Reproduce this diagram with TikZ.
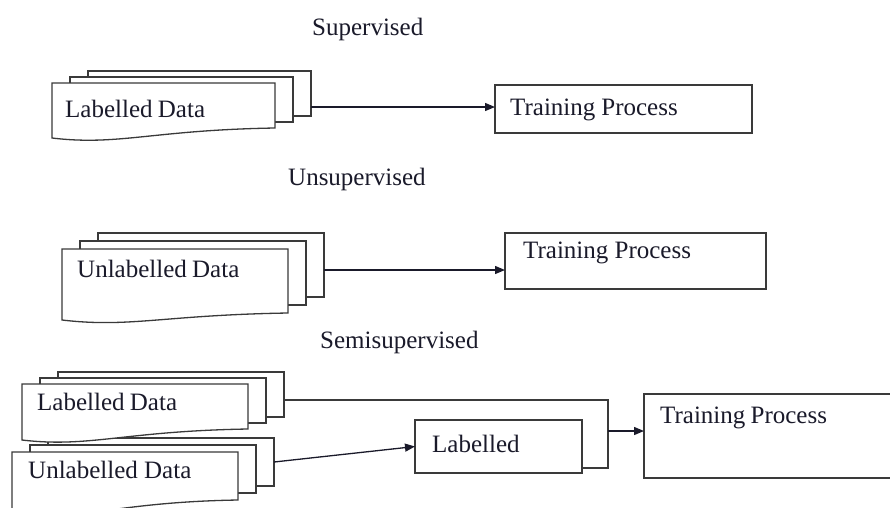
\documentclass[tikz,border=0pt]{standalone}
\usepackage{fontspec}
\setmainfont{Liberation Serif}
\usetikzlibrary{arrows.meta}

\definecolor{edge}{HTML}{3A3A3A}
\definecolor{ink}{HTML}{1A1A2A}

% stack of three documents: name, x, y (front top-left), width,
% height of the rear sheets, left height of the front sheet, vertical step, y of the outlet
\newcommand\docstack[8]{%
  \begin{scope}[shift={(#2,#3)}]
    \draw[sheet] ({36},{2*#7}) rectangle ({36+#4},{2*#7+#5});
    \draw[sheet] ({18},{#7}) rectangle ({18+#4},{#7+#5});
    \draw[sheet] (0,0) -- ({#4},0) -- ({#4},{#5})
      .. controls ({0.45*#4},{#5+2}) and ({0.3*#4},{#6+8}) .. (0,{#6}) -- cycle;
    \coordinate (#1-out) at ({36+#4},{#8});
  \end{scope}}

\tikzset{
  sheet/.style={draw=edge, fill=white, line width=1.3pt, line join=miter},
  procbox/.style={draw=edge, fill=white, line width=1.3pt, anchor=north west,
    inner sep=0pt, outer sep=0pt},
  label/.style={anchor=base west, inner sep=0pt, text=ink,
    font=\fontsize{25}{30}\selectfont},
  title/.style={label},
  link/.style={draw=ink, line width=1.3pt},
  arrow/.style={link, -{Triangle[length=10pt,width=8pt]}},
}

\begin{document}
\begin{tikzpicture}[x=1pt, y=-1pt]
  \useasboundingbox (0,0) rectangle (890,507);
  \clip (0,0) rectangle (890,507);
  \fill[white] (0,0) rectangle (890,507);

  % ---------- supervised ----------
  \node[title] (t-sup) at (312,35) {Supervised};
  \docstack{sup}{52}{83}{223}{45}{55}{-6}{24}
  \node[label] (sup-text) at (65,117) {Labelled\hspace{-1pt} Data};
  \node[procbox, minimum width=257pt, minimum height=48pt] (sup-train) at (495,85) {};
  \node[label] at (510,115) {Training\hspace{6pt}Process};
  \draw[arrow] (sup-out) -- (sup-out -| sup-train.west);

  % ---------- unsupervised ----------
  \node[title] (t-uns) at (288,185) {Unsupervised};
  \docstack{uns}{62}{249}{226}{64}{71}{-8}{21}
  \node[label] (uns-text) at (77,277) {Unlabelled\hspace{-1pt} Data};
  \node[procbox, minimum width=261pt, minimum height=56pt] (uns-train) at (505,233) {};
  \node[label] at (523,258) {Training Process};
  \draw[arrow] (uns-out) -- (uns-out -| uns-train.west);

  % ---------- semisupervised ----------
  \node[title] (t-semi) at (320,348) {Semisupervised};
  \docstack{unl}{12}{452}{226}{48}{62}{-7}{10}
  \docstack{lab}{22}{384}{226}{45}{56}{-6}{16}
  \node[label] (lab-text) at (37,410) {Labelled\hspace{-1pt} Data};
  \node[label] (unl-text) at (28,478) {Unlabelled Data};

  \node[procbox, minimum width=167pt, minimum height=53pt] (lab) at (415,420) {};
  \node[label] at (432,452) {Labelled};
  \node[procbox, minimum width=260pt, minimum height=84pt] (semi-train) at (644,394) {};
  \node[label] at (660,423) {Training\hspace{-1pt} Process};

  \coordinate (join-low) at (608,468);
  \coordinate (join-out) at (608,431);
  \draw[link, draw=edge] (lab-out) -| (join-low) -- (join-low -| lab.east);
  \draw[arrow] (unl-out) -- (lab.west);
  \draw[arrow] (join-out) -- (join-out -| semi-train.west);
\end{tikzpicture}
\end{document}
